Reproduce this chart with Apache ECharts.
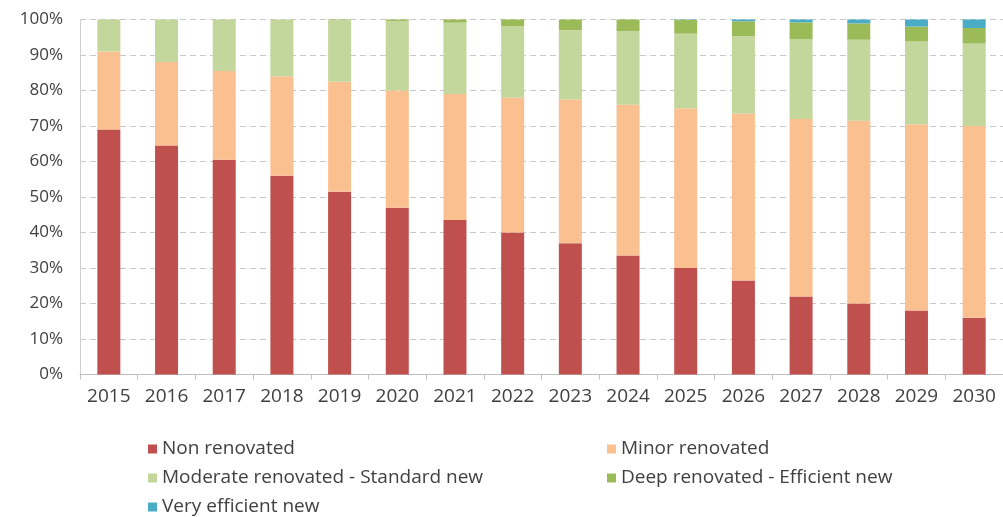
<!DOCTYPE html>
<html>
<head>
<meta charset="utf-8">
<script src="https://cdn.jsdelivr.net/npm/echarts@6/dist/echarts.min.js"></script>
<style>
  html, body { margin: 0; padding: 0; background: #ffffff; }
  #chart { width: 1003px; height: 517px; }
</style>
</head>
<body>
<div id="chart"></div>
<script>
// Building stock by renovation state, share of total (%)
const years = ['2015', '2016', '2017', '2018', '2019', '2020', '2021', '2022',
               '2023', '2024', '2025', '2026', '2027', '2028', '2029', '2030'];

const nonRenovated      = [69, 64.5, 60.5, 56, 51.5, 47, 43.5, 40, 37, 33.5, 30, 26.5, 22, 20, 18, 16];
const minorRenovated    = [22, 23.5, 25, 28, 31, 33, 35.5, 38, 40.5, 42.5, 45, 47, 50, 51.5, 52.5, 54];
const moderateStandard  = [9, 12, 14.5, 16, 17.3, 19.6, 20.1, 20.1, 19.5, 20.7, 21, 21.8, 22.5, 22.8, 23.3, 23.2];
const deepEfficient     = [0, 0, 0, 0, 0.2, 0.4, 0.9, 1.9, 3, 3.3, 3.9, 4.2, 4.7, 4.6, 4.2, 4.4];
const veryEfficientNew  = [0, 0, 0, 0, 0, 0, 0, 0, 0, 0, 0.1, 0.5, 0.8, 1.1, 2, 2.4];

const yTicks = [0, 10, 20, 30, 40, 50, 60, 70, 80, 90, 100];

const seriesDefs = [
  { name: 'Non renovated', data: nonRenovated, color: '#C0504D' },
  { name: 'Minor renovated', data: minorRenovated, color: '#FAC090' },
  { name: 'Moderate renovated - Standard new', data: moderateStandard, color: '#C3D69B' },
  { name: 'Deep renovated - Efficient new', data: deepEfficient, color: '#9BBB59' },
  { name: 'Very efficient new', data: veryEfficientNew, color: '#4BACC6' }
];

const font = 'Open Sans';
const legendText = { fontFamily: font, fontSize: 19, color: '#404040', lineHeight: 20 };

const chart = echarts.init(document.getElementById('chart'), null, { renderer: 'canvas' });

// Two vertical legend columns laid out as a 2-column grid
const legendCommon = {
  orient: 'vertical', top: 439, height: 100, padding: 0,
  itemWidth: 9, itemHeight: 9, itemGap: 9, icon: 'rect',
  textStyle: legendText
};

chart.setOption({
  animation: false,
  backgroundColor: '#ffffff',
  grid: { left: 80, top: 19.5, width: 926, bottom: 142.5, containLabel: false },
  legend: [
    Object.assign({}, legendCommon, {
      left: 148,
      data: [seriesDefs[0].name, seriesDefs[2].name, seriesDefs[4].name]
    }),
    Object.assign({}, legendCommon, {
      left: 607,
      data: [seriesDefs[1].name, seriesDefs[3].name]
    })
  ],
  xAxis: {
    type: 'category',
    data: years,
    axisLine: { show: true, lineStyle: { color: '#bfbfbf', width: 1 } },
    axisTick: { show: true, alignWithLabel: false, length: 5, lineStyle: { color: '#bfbfbf' } },
    axisLabel: { fontFamily: font, fontSize: 19, color: '#404040', margin: 13 },
    splitLine: { show: false }
  },
  yAxis: {
    type: 'value',
    min: yTicks[0],
    max: yTicks[yTicks.length - 1],
    interval: yTicks[1] - yTicks[0],
    axisLine: { show: true, lineStyle: { color: '#d0d0d0', width: 1 } },
    axisTick: { show: false },
    axisLabel: { fontFamily: font, fontSize: 17, color: '#404040', margin: 17, formatter: '{value}%' },
    splitLine: { show: true, lineStyle: { color: '#c8c8c8', type: [6, 4], width: 1 } }
  },
  series: seriesDefs.map(s => ({
    name: s.name,
    type: 'bar',
    stack: 'share',
    barWidth: 23,
    data: s.data,
    itemStyle: { color: s.color },
    emphasis: { disabled: true }
  }))
});
</script>
</body>
</html>
